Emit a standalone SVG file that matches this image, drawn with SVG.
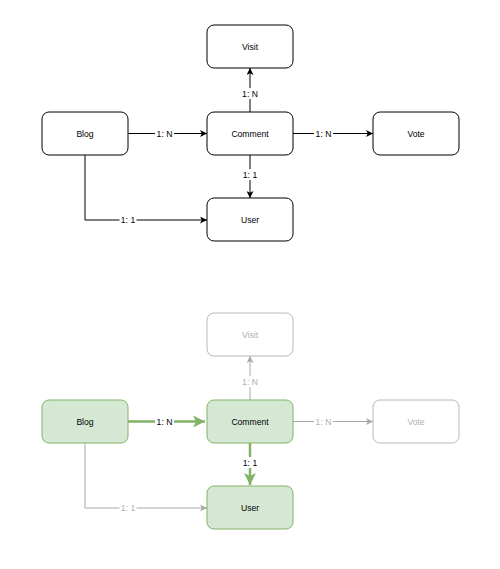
<svg xmlns="http://www.w3.org/2000/svg" width="500" height="569" viewBox="0 0 500 569">
<style>
.n{fill:#fff;stroke:#000;stroke-width:1}
.t{font-family:"Liberation Sans",Arial,sans-serif;font-size:8.6px;text-anchor:middle;dominant-baseline:central;fill:#000}
.e{fill:none;stroke:#000;stroke-width:1}
.lb{fill:#fff}
.gn{fill:#fff;stroke:#b8b8b8;stroke-width:1}
.gt{fill:#b0b0b0}
.ge{fill:none;stroke:#a8a8a8;stroke-width:1}
.hn{fill:#d5e8d4;stroke:#82b366;stroke-width:1}
.he{fill:none;stroke:#82b366;stroke-width:2.5}
</style>
<defs>
<marker id="a" viewBox="0 0 10 10" refX="10" refY="5" markerWidth="7" markerHeight="7" markerUnits="userSpaceOnUse" orient="auto"><path d="M0,0 L10,5 L0,10 L2.5,5 Z" fill="#000"/></marker>
<marker id="ag" viewBox="0 0 10 10" refX="10" refY="5" markerWidth="7" markerHeight="7" markerUnits="userSpaceOnUse" orient="auto"><path d="M0,0 L10,5 L0,10 L2.5,5 Z" fill="#a8a8a8"/></marker>
<marker id="ah" viewBox="0 0 10 10" refX="10" refY="5" markerWidth="12" markerHeight="12" markerUnits="userSpaceOnUse" orient="auto"><path d="M0,0 L10,5 L0,10 L2.5,5 Z" fill="#82b366"/></marker>
</defs>
<g id="connectors">
<path class="e" d="M128,133.5 H207" marker-end="url(#a)"/>
<path class="e" d="M293,133.5 H373" marker-end="url(#a)"/>
<path class="e" d="M250,112 V68" marker-end="url(#a)"/>
<path class="e" d="M250,155 V198" marker-end="url(#a)"/>
<path class="e" d="M85,155 V220 H207" marker-end="url(#a)"/>
<rect class="lb" x="155" y="128" width="19" height="11"/><text class="t" x="164.5" y="133.5">1: N</text>
<rect class="lb" x="314" y="128" width="19" height="11"/><text class="t" x="323.5" y="133.5">1: N</text>
<rect class="lb" x="240.5" y="88" width="19" height="11"/><text class="t" x="250" y="93.5">1: N</text>
<rect class="lb" x="241.5" y="169" width="17" height="11"/><text class="t" x="250" y="174.5">1: 1</text>
<rect class="lb" x="119.5" y="214.5" width="17" height="11"/><text class="t" x="128" y="220">1: 1</text>
<path class="he" d="M128,421.5 H205" marker-end="url(#ah)"/>
<path class="ge" d="M293,421.5 H373" marker-end="url(#ag)"/>
<path class="ge" d="M250,400 V356" marker-end="url(#ag)"/>
<path class="he" d="M250,443 V485" marker-end="url(#ah)"/>
<path class="ge" d="M85,443 V508 H207" marker-end="url(#ag)"/>
<rect class="lb" x="155" y="416" width="19" height="11"/><text class="t" x="164.5" y="421.5">1: N</text>
<rect class="lb" x="314" y="416" width="19" height="11"/><text class="t gt" x="323.5" y="421.5">1: N</text>
<rect class="lb" x="240.5" y="376" width="19" height="11"/><text class="t gt" x="250" y="381.5">1: N</text>
<rect class="lb" x="241.5" y="457" width="17" height="11"/><text class="t" x="250" y="462.5">1: 1</text>
<rect class="lb" x="119.5" y="502.5" width="17" height="11"/><text class="t gt" x="128" y="508">1: 1</text>
</g>
<g id="visit"><rect class="n" x="207" y="25" width="86" height="43" rx="7"/><text class="t" x="250" y="46.5">Visit</text></g>
<g id="blog"><rect class="n" x="42" y="112" width="86" height="43" rx="7"/><text class="t" x="85" y="133.5">Blog</text></g>
<g id="comment"><rect class="n" x="207" y="112" width="86" height="43" rx="7"/><text class="t" x="250" y="133.5">Comment</text></g>
<g id="vote"><rect class="n" x="373" y="112" width="86" height="43" rx="7"/><text class="t" x="416" y="133.5">Vote</text></g>
<g id="user"><rect class="n" x="207" y="198" width="86" height="43" rx="7"/><text class="t" x="250" y="219.5">User</text></g>
<g id="visit2"><rect class="gn" x="207" y="313" width="86" height="43" rx="7"/><text class="t gt" x="250" y="334.5">Visit</text></g>
<g id="blog2"><rect class="hn" x="42" y="400" width="86" height="43" rx="7"/><text class="t" x="85" y="421.5">Blog</text></g>
<g id="comment2"><rect class="hn" x="207" y="400" width="86" height="43" rx="7"/><text class="t" x="250" y="421.5">Comment</text></g>
<g id="vote2"><rect class="gn" x="373" y="400" width="86" height="43" rx="7"/><text class="t gt" x="416" y="421.5">Vote</text></g>
<g id="user2"><rect class="hn" x="207" y="486" width="86" height="43" rx="7"/><text class="t" x="250" y="507.5">User</text></g>
</svg>
